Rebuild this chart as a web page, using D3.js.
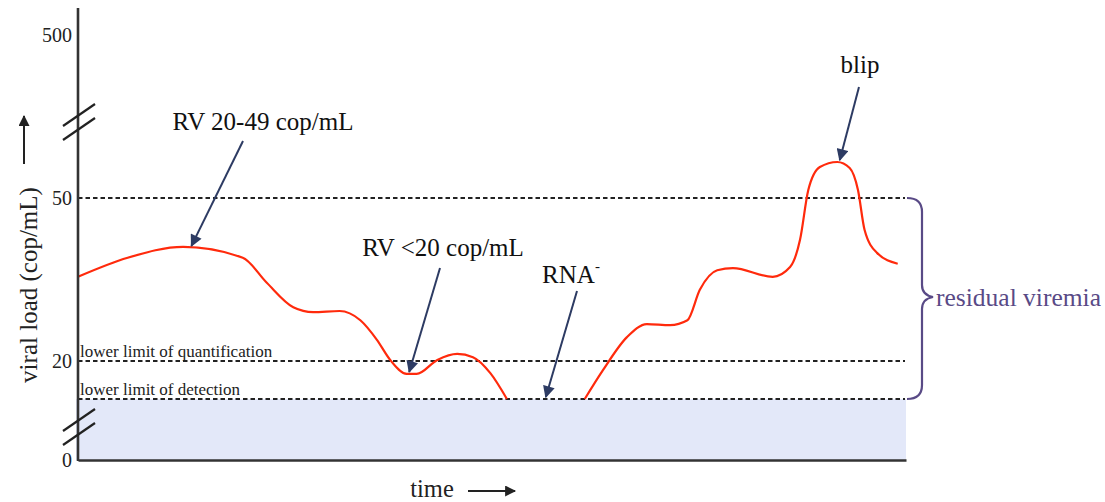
<!DOCTYPE html>
<html>
<head>
<meta charset="utf-8">
<script src="https://cdn.jsdelivr.net/npm/d3@7"></script>
<style>
  body { margin: 0; background: #fff; }
  svg { font-family: "Liberation Serif", "Times New Roman", serif; }
</style>
</head>
<body>
<div id="chart"></div>
<script>
var tiempo1 = [0, 6.0, 12.7, 19.9, 22.8, 26.0, 28.4, 31.6, 34.1, 36.1, 37.7, 39.7, 40.9, 43.4, 45.8, 47.7, 49.8, 51.8];
var carga1  = [35.5, 39.0, 41.0, 39.0, 34.4, 29.9, 29.0, 29.2, 27.5, 23.9, 20.2, 16.6, 16.6, 20.2, 21.3, 20.7, 16.8, 10];
var tiempo2 = [61.2, 63.4, 66.3, 68.7, 71.5, 73.6, 75.1, 77.2, 79.1, 83.9, 86.0, 87.2, 88.2, 89.6, 91.7, 93.2, 94.2, 95.0, 96.5, 99.0];
var carga2  = [10, 17.6, 24.4, 26.8, 26.6, 27.5, 33.1, 36.7, 37.1, 35.5, 37.3, 42.3, 72.1, 135.6, 149.4, 132.8, 72.1, 44.1, 39.9, 37.9];

var yTicks = [0, 20, 50, 500];
var lld = 10;   // limite de deteccion
var llq = 20;   // limite de cuantificacion
var umbral = 50;

var width = 1105, height = 502;

var svg = d3.select("#chart").append("svg")
    .attr("width", width)
    .attr("height", height);

// escala del eje x
var x = d3.scaleLinear().domain([0, 100]).range([78, 906]);
// escala del eje y (por tramos, eje cortado)
var y = d3.scaleLinear().domain([0, lld, llq, umbral, 500]).range([460, 399, 361, 198, 35]);

var navy = "#2d3b63";
var morado = "#594a86";

// flecha
var defs = svg.append("defs");
function marker(id, color, w, h) {
    defs.append("marker")
        .attr("id", id)
        .attr("viewBox", "0 0 10 10")
        .attr("refX", 9).attr("refY", 5)
        .attr("markerWidth", w).attr("markerHeight", h)
        .attr("markerUnits", "userSpaceOnUse")
        .attr("orient", "auto")
        .append("path")
        .attr("d", "M0,0 L10,5 L0,10 z")
        .attr("fill", color);
}
marker("flecha", navy, 13, 12);
marker("flechaNegra", "#222", 13, 11);

// zona no detectable
svg.append("rect")
    .attr("x", x(0) - 2)
    .attr("y", y(lld))
    .attr("width", x(100) - x(0) + 2)
    .attr("height", y(0) - y(lld))
    .attr("fill", "#e3e8f9");

// lineas punteadas
[umbral, llq, lld].forEach(function(v) {
    svg.append("line")
        .attr("x1", x(0)).attr("x2", 905)
        .attr("y1", y(v)).attr("y2", y(v))
        .attr("stroke", "#222")
        .attr("stroke-width", 2)
        .attr("stroke-dasharray", "4.5,3");
});

svg.append("text")
    .attr("x", 80).attr("y", y(llq) - 4)
    .style("font-size", "17px").attr("fill", "#222")
    .text("lower limit of quantification");
svg.append("text")
    .attr("x", 80).attr("y", y(lld) - 4)
    .style("font-size", "17px").attr("fill", "#222")
    .text("lower limit of detection");

// curva de carga viral
var line = d3.line()
    .x(function(d) { return x(d[0]); })
    .y(function(d) { return y(d[1]); })
    .curve(d3.curveMonotoneX);

[[tiempo1, carga1], [tiempo2, carga2]].forEach(function(s) {
    var pts = s[0].map(function(t, i) { return [t, s[1][i]]; });
    svg.append("path")
        .datum(pts)
        .attr("d", line)
        .attr("fill", "none")
        .attr("stroke", "#ff2a0c")
        .attr("stroke-width", 2.2);
});

// eje y
var yAxis = svg.append("g")
    .attr("transform", "translate(" + x(0) + ",0)")
    .call(d3.axisLeft(y).tickValues(yTicks).tickSize(0).tickPadding(6).tickFormat(d3.format("d")));
yAxis.select(".domain").remove();
yAxis.selectAll("text")
    .style("font-family", "Liberation Serif, serif")
    .style("font-size", "20px")
    .attr("fill", "#222");

svg.append("line")
    .attr("x1", x(0)).attr("x2", x(0))
    .attr("y1", 8).attr("y2", y(0) + 1)
    .attr("stroke", "#333").attr("stroke-width", 2.6);

// eje x
var xAxis = svg.append("g")
    .attr("transform", "translate(0," + y(0) + ")")
    .call(d3.axisBottom(x).tickValues([]).tickSizeOuter(0));
xAxis.select(".domain")
    .attr("stroke", "#333")
    .attr("stroke-width", 2.6);

// cortes del eje
function corte(yc) {
    [-7, 7].forEach(function(off) {
        svg.append("line")
            .attr("x1", x(0) - 15).attr("y1", yc + off + 11)
            .attr("x2", x(0) + 17).attr("y2", yc + off - 11)
            .attr("stroke", "#222").attr("stroke-width", 2.2);
    });
}
corte(122);
corte(427);

// titulo del eje y
svg.append("text")
    .attr("transform", "translate(37,285) rotate(-90)")
    .attr("text-anchor", "middle")
    .style("font-size", "25px")
    .attr("fill", "#222")
    .text("viral load (cop/mL)");
svg.append("line")
    .attr("x1", 24).attr("x2", 24)
    .attr("y1", 164).attr("y2", 116)
    .attr("stroke", "#222").attr("stroke-width", 2)
    .attr("marker-end", "url(#flechaNegra)");

// titulo del eje x
svg.append("text")
    .attr("x", 432).attr("y", 497)
    .attr("text-anchor", "middle")
    .style("font-size", "24.5px")
    .attr("fill", "#222")
    .text("time");
svg.append("line")
    .attr("x1", 468).attr("x2", 515)
    .attr("y1", 491).attr("y2", 491)
    .attr("stroke", "#222").attr("stroke-width", 2)
    .attr("marker-end", "url(#flechaNegra)");

// anotaciones
function anotacion(texto, tx, ty, ax, ay, px, py) {
    var t = svg.append("text")
        .attr("x", tx).attr("y", ty)
        .attr("text-anchor", "middle")
        .style("font-size", "25px")
        .attr("fill", "#111")
        .text(texto);
    svg.append("line")
        .attr("x1", ax).attr("y1", ay)
        .attr("x2", px).attr("y2", py)
        .attr("stroke", navy).attr("stroke-width", 2)
        .attr("marker-end", "url(#flecha)");
    return t;
}
anotacion("RV 20-49 cop/mL", 263, 130, 243, 141, x(13.7), y(41.0) - 1);
anotacion("RV <20 cop/mL", 443, 256, 440, 268, x(40.0), y(16.6) - 2);
var rna = anotacion("RNA", 571, 283, 577, 291, x(56.5), y(lld) - 2);
rna.append("tspan").attr("dy", -12).style("font-size", "15px").text("-");
anotacion("blip", 860, 73, 859, 87, x(92.0), y(149.4) - 2);

// llave de viremia residual
var bx = 922, yTop = y(umbral), yBot = y(lld), yMid = 297;
var brace = d3.path();
brace.moveTo(bx - 15, yTop);
brace.quadraticCurveTo(bx, yTop, bx, yTop + 14);
brace.lineTo(bx, yMid - 12);
brace.quadraticCurveTo(bx, yMid - 2, bx + 11, yMid);
brace.quadraticCurveTo(bx, yMid + 2, bx, yMid + 12);
brace.lineTo(bx, yBot - 14);
brace.quadraticCurveTo(bx, yBot, bx - 15, yBot);
svg.append("path")
    .attr("d", brace.toString())
    .attr("fill", "none")
    .attr("stroke", morado)
    .attr("stroke-width", 2.2);

svg.append("text")
    .attr("x", 936).attr("y", 306)
    .style("font-size", "25.5px")
    .attr("fill", morado)
    .text("residual viremia");
</script>
</body>
</html>
